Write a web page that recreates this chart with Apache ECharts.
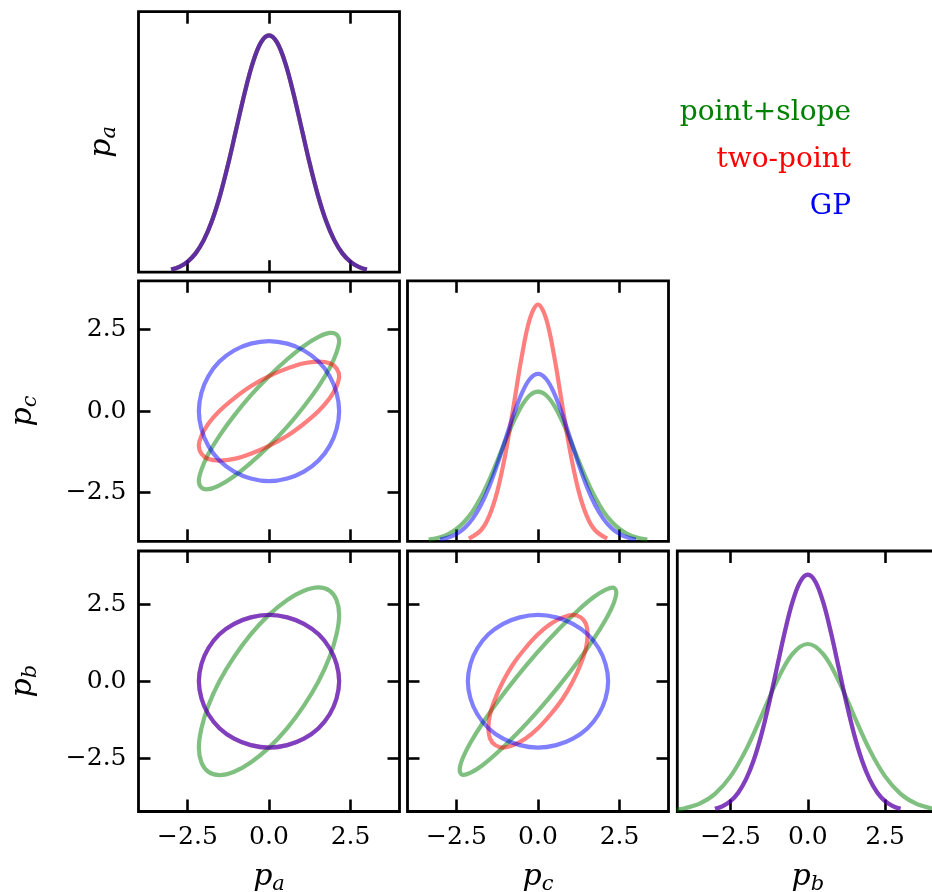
<!DOCTYPE html>
<html>
<head>
<meta charset="utf-8">
<script src="https://cdn.jsdelivr.net/npm/echarts@6/dist/echarts.min.js"></script>
<style>
  html, body { margin: 0; padding: 0; background: #fff; }
  #chart { width: 932px; height: 892px; }
</style>
</head>
<body>
<div id="chart"></div>
<script>
// ---- models ----
const models = ['point+slope', 'two-point', 'GP'];
const modelColors = ['#008000', '#ff0000', '#0000ff'];

// ---- axes ----
const tickValues = [-2.5, 0, 2.5];
const rangeA = [-4.0, 4.0];
const rangeC = [-4.0, 4.0];
const rangeB = [-4.22, 4.22];

// ---- 1-D marginals (x, density) ----
// unit-width marginal: p_a for every model, p_c for GP, p_b for two-point and GP
const gridUnit = [-3, -2.75, -2.5, -2.25, -2, -1.75, -1.5, -1.25, -1, -0.75, -0.5, -0.25, 0,
  0.25, 0.5, 0.75, 1, 1.25, 1.5, 1.75, 2, 2.25, 2.5, 2.75, 3];
const densityUnit = [0.0044, 0.0091, 0.0175, 0.0317, 0.0540, 0.0863, 0.1295, 0.1826, 0.2420, 0.3011, 0.3521, 0.3867, 0.3989,
  0.3867, 0.3521, 0.3011, 0.2420, 0.1826, 0.1295, 0.0863, 0.0540, 0.0317, 0.0175, 0.0091, 0.0044];

// p_c, point+slope
const gridPointSlopeC = [-3.35, -3, -2.75, -2.5, -2.25, -2, -1.75, -1.5, -1.25, -1, -0.75, -0.5, -0.25, 0,
  0.25, 0.5, 0.75, 1, 1.25, 1.5, 1.75, 2, 2.25, 2.5, 2.75, 3, 3.35];
const densityPointSlopeC = [0.0040, 0.0098, 0.0173, 0.0293, 0.0471, 0.0720, 0.1048, 0.1451, 0.1910, 0.2392, 0.2849, 0.3228, 0.3480, 0.3568,
  0.3480, 0.3228, 0.2849, 0.2392, 0.1910, 0.1451, 0.1048, 0.0720, 0.0471, 0.0293, 0.0173, 0.0098, 0.0040];

// p_c, two-point
const gridTwoPointC = [-2.12, -1.75, -1.5, -1.25, -1, -0.75, -0.5, -0.25, 0, 0.25, 0.5, 0.75, 1, 1.25, 1.5, 1.75, 2.12];
const densityTwoPointC = [0.0063, 0.0264, 0.0595, 0.1183, 0.2076, 0.3215, 0.4394, 0.5300, 0.5642,
  0.5300, 0.4394, 0.3215, 0.2076, 0.1183, 0.0595, 0.0264, 0.0063];

// p_b, point+slope
const gridPointSlopeB = [-4.24, -4, -3.5, -3, -2.5, -2, -1.5, -1, -0.5, 0, 0.5, 1, 1.5, 2, 2.5, 3, 3.5, 4, 4.24];
const densityPointSlopeB = [0.0032, 0.0052, 0.0132, 0.0297, 0.0591, 0.1038, 0.1607, 0.2197, 0.2650, 0.2821,
  0.2650, 0.2197, 0.1607, 0.1038, 0.0591, 0.0297, 0.0132, 0.0052, 0.0032];

// ---- 2-D contours ([x, y] around each curve) ----
const contourUnitCircle = [[2.15, 0], [2.07, 0.56], [1.86, 1.07], [1.52, 1.52], [1.07, 1.86], [0.56, 2.07],
  [0, 2.15], [-0.56, 2.07], [-1.07, 1.86], [-1.52, 1.52], [-1.86, 1.07], [-2.07, 0.56],
  [-2.15, 0], [-2.07, -0.56], [-1.86, -1.07], [-1.52, -1.52], [-1.07, -1.86], [-0.56, -2.07],
  [0, -2.15], [0.56, -2.07], [1.07, -1.86], [1.52, -1.52], [1.86, -1.07], [2.07, -0.56]];

// (p_a, p_b)
const contourPointSlopeAB = [[2.15, 2.15], [2.07, 2.63], [1.86, 2.93], [1.52, 3.04], [1.07, 2.93], [0.56, 2.63],
  [0, 2.15], [-0.56, 1.52], [-1.07, 0.79], [-1.52, 0], [-1.86, -0.79], [-2.07, -1.52],
  [-2.15, -2.15], [-2.07, -2.63], [-1.86, -2.93], [-1.52, -3.04], [-1.07, -2.93], [-0.56, -2.63],
  [0, -2.15], [0.56, -1.52], [1.07, -0.79], [1.52, 0], [1.86, 0.79], [2.07, 1.52]];

// (p_a, p_c)
const contourPointSlopeAC = [[2.15, 2.15], [2.07, 2.35], [1.86, 2.40], [1.52, 2.28], [1.07, 2.00], [0.56, 1.59],
  [0, 1.07], [-0.56, 0.48], [-1.07, -0.14], [-1.52, -0.76], [-1.86, -1.32], [-2.07, -1.80],
  [-2.15, -2.15], [-2.07, -2.35], [-1.86, -2.40], [-1.52, -2.28], [-1.07, -2.00], [-0.56, -1.59],
  [0, -1.07], [0.56, -0.48], [1.07, 0.14], [1.52, 0.76], [1.86, 1.32], [2.07, 1.80]];
const contourTwoPointAC = [[2.15, 1.07], [2.07, 1.31], [1.86, 1.47], [1.52, 1.52], [1.07, 1.47], [0.56, 1.31],
  [0, 1.07], [-0.56, 0.76], [-1.07, 0.39], [-1.52, 0], [-1.86, -0.39], [-2.07, -0.76],
  [-2.15, -1.07], [-2.07, -1.31], [-1.86, -1.47], [-1.52, -1.52], [-1.07, -1.47], [-0.56, -1.31],
  [0, -1.07], [0.56, -0.76], [1.07, -0.39], [1.52, 0], [1.86, 0.39], [2.07, 0.76]];

// (p_c, p_b)
const contourPointSlopeCB = [[2.40, 2.88], [2.32, 3.03], [2.08, 2.97], [1.70, 2.72], [1.20, 2.27], [0.62, 1.67],
  [0, 0.96], [-0.62, 0.18], [-1.20, -0.61], [-1.70, -1.36], [-2.08, -2.01], [-2.32, -2.53],
  [-2.40, -2.88], [-2.32, -3.03], [-2.08, -2.97], [-1.70, -2.72], [-1.20, -2.27], [-0.62, -1.67],
  [0, -0.96], [0.62, -0.18], [1.20, 0.61], [1.70, 1.36], [2.08, 2.01], [2.32, 2.53]];
const contourTwoPointCB = [[1.52, 1.52], [1.47, 1.86], [1.31, 2.07], [1.07, 2.15], [0.76, 2.07], [0.39, 1.86],
  [0, 1.52], [-0.39, 1.07], [-0.76, 0.56], [-1.07, 0], [-1.31, -0.56], [-1.47, -1.07],
  [-1.52, -1.52], [-1.47, -1.86], [-1.31, -2.07], [-1.07, -2.15], [-0.76, -2.07], [-0.39, -1.86],
  [0, -1.52], [0.39, -1.07], [0.76, -0.56], [1.07, 0], [1.31, 0.56], [1.47, 1.07]];

// ---- layout ----
const FONT = 'DejaVu Serif';
const COL_LEFT = [138.5, 407.5, 677.3];
const ROW_TOP = [11.7, 280.8, 551];
const PANEL_W = 261;
const PANEL_H = 260.5;
const LINE_W = 4.2;

const grid = [], xAxis = [], yAxis = [], series = [];

const nameRich = {
  p: { fontFamily: FONT, fontStyle: 'italic', fontSize: 30, lineHeight: 36, color: '#000' },
  s: { fontFamily: FONT, fontStyle: 'italic', fontSize: 21, lineHeight: 20, verticalAlign: 'bottom', color: '#000' }
};
const axisName = v => '{p|p}{s|' + v + '}';
const tickText = v => (v < 0 ? '\u2212' : '') + Math.abs(v).toFixed(1);

function ticks() {
  return { show: true, inside: true, length: 12, customValues: tickValues,
    lineStyle: { color: '#000', width: 2.6 } };
}
function labels(margin) {
  return { show: true, customValues: tickValues, formatter: tickText, margin: margin,
    fontFamily: FONT, fontSize: 25, color: '#000' };
}

function addPanel(row, col, xRange, yRange, opt) {
  const gi = grid.length;
  grid.push({ left: COL_LEFT[col], top: ROW_TOP[row], width: PANEL_W, height: PANEL_H,
    show: true, borderColor: '#000', borderWidth: 2.8, backgroundColor: 'transparent',
    containLabel: false, outerBoundsMode: 'none' });
  const base = { gridIndex: gi, type: 'value', axisLine: { show: false, onZero: false },
    splitLine: { show: false }, nameMoveOverlap: false };
  const xi = xAxis.length;
  xAxis.push(Object.assign({}, base, {
    position: 'bottom', min: xRange[0], max: xRange[1], axisTick: ticks(),
    axisLabel: opt.xLabels ? labels(13) : { show: false },
    name: opt.xName ? axisName(opt.xName) : '', nameLocation: 'middle', nameGap: 48,
    nameTextStyle: { rich: nameRich }
  }));
  xAxis.push(Object.assign({}, base, {
    position: 'top', min: xRange[0], max: xRange[1], axisTick: ticks(), axisLabel: { show: false }
  }));
  const yi = yAxis.length;
  yAxis.push(Object.assign({}, base, {
    position: 'left', min: yRange[0], max: yRange[1],
    axisTick: opt.diag ? { show: false } : ticks(),
    axisLabel: opt.yLabels ? labels(12) : { show: false },
    name: opt.yName ? axisName(opt.yName) : '', nameLocation: 'middle', nameRotate: 90,
    nameGap: opt.diag ? 18 : 97, nameTextStyle: { rich: nameRich }
  }));
  if (!opt.diag) {
    yAxis.push(Object.assign({}, base, {
      position: 'right', min: yRange[0], max: yRange[1], axisTick: ticks(), axisLabel: { show: false }
    }));
  }
  return { xi: xi, yi: yi };
}

function addDensity(ax, m, xs, ys) {
  series.push({
    type: 'line', name: models[m], xAxisIndex: ax.xi, yAxisIndex: ax.yi,
    data: xs.map((x, i) => [x, ys[i]]),
    smooth: 0.35, symbol: 'none', showSymbol: false, silent: true,
    lineStyle: { color: modelColors[m], width: LINE_W, opacity: 0.5 },
    itemStyle: { color: modelColors[m] }, emphasis: { disabled: true }
  });
}

function addContour(ax, m, pts) {
  series.push({
    type: 'custom', name: models[m], xAxisIndex: ax.xi, yAxisIndex: ax.yi,
    data: pts, encode: { x: 0, y: 1 }, silent: true, itemStyle: { color: modelColors[m] },
    renderItem: (params, api) => params.dataIndex !== 0 ? null : {
      type: 'polygon',
      shape: { points: pts.map(p => api.coord(p)), smooth: 0.35 },
      style: { fill: 'none', stroke: modelColors[m], lineWidth: LINE_W, opacity: 0.5 }
    }
  });
}

const peak = ys => 1.1 * Math.max.apply(null, ys);

// row 0: p_a marginal
const pAA = addPanel(0, 0, rangeA, [0, peak(densityUnit)], { diag: true, yName: 'a' });
addDensity(pAA, 0, gridUnit, densityUnit);
addDensity(pAA, 1, gridUnit, densityUnit);
addDensity(pAA, 2, gridUnit, densityUnit);

// row 1: (p_a, p_c) and p_c marginal
const pAC = addPanel(1, 0, rangeA, rangeC, { yLabels: true, yName: 'c' });
addContour(pAC, 0, contourPointSlopeAC);
addContour(pAC, 1, contourTwoPointAC);
addContour(pAC, 2, contourUnitCircle);

const pCC = addPanel(1, 1, rangeC, [0, peak(densityTwoPointC)], { diag: true });
addDensity(pCC, 0, gridPointSlopeC, densityPointSlopeC);
addDensity(pCC, 1, gridTwoPointC, densityTwoPointC);
addDensity(pCC, 2, gridUnit, densityUnit);

// row 2: (p_a, p_b), (p_c, p_b) and p_b marginal
const pAB = addPanel(2, 0, rangeA, rangeB, { yLabels: true, xLabels: true, xName: 'a', yName: 'b' });
addContour(pAB, 0, contourPointSlopeAB);
addContour(pAB, 1, contourUnitCircle);
addContour(pAB, 2, contourUnitCircle);

const pCB = addPanel(2, 1, rangeC, rangeB, { xLabels: true, xName: 'c' });
addContour(pCB, 0, contourPointSlopeCB);
addContour(pCB, 1, contourTwoPointCB);
addContour(pCB, 2, contourUnitCircle);

const pBB = addPanel(2, 2, rangeB, [0, peak(densityUnit)], { diag: true, xLabels: true, xName: 'b' });
addDensity(pBB, 0, gridPointSlopeB, densityPointSlopeB);
addDensity(pBB, 1, gridUnit, densityUnit);
addDensity(pBB, 2, gridUnit, densityUnit);

const chart = echarts.init(document.getElementById('chart'), null, { renderer: 'canvas', width: 932, height: 892 });
chart.setOption({
  animation: false,
  backgroundColor: '#fff',
  grid: grid,
  xAxis: xAxis,
  yAxis: yAxis,
  legend: {
    orient: 'vertical', right: 71, top: 91, align: 'right',
    icon: 'none', itemWidth: 0, itemHeight: 34, itemGap: 13, selectedMode: false,
    textStyle: { fontFamily: FONT, fontSize: 28, lineHeight: 34 },
    data: models.map((m, i) => ({ name: m, textStyle: { color: modelColors[i] } }))
  },
  series: series
});
</script>
</body>
</html>
